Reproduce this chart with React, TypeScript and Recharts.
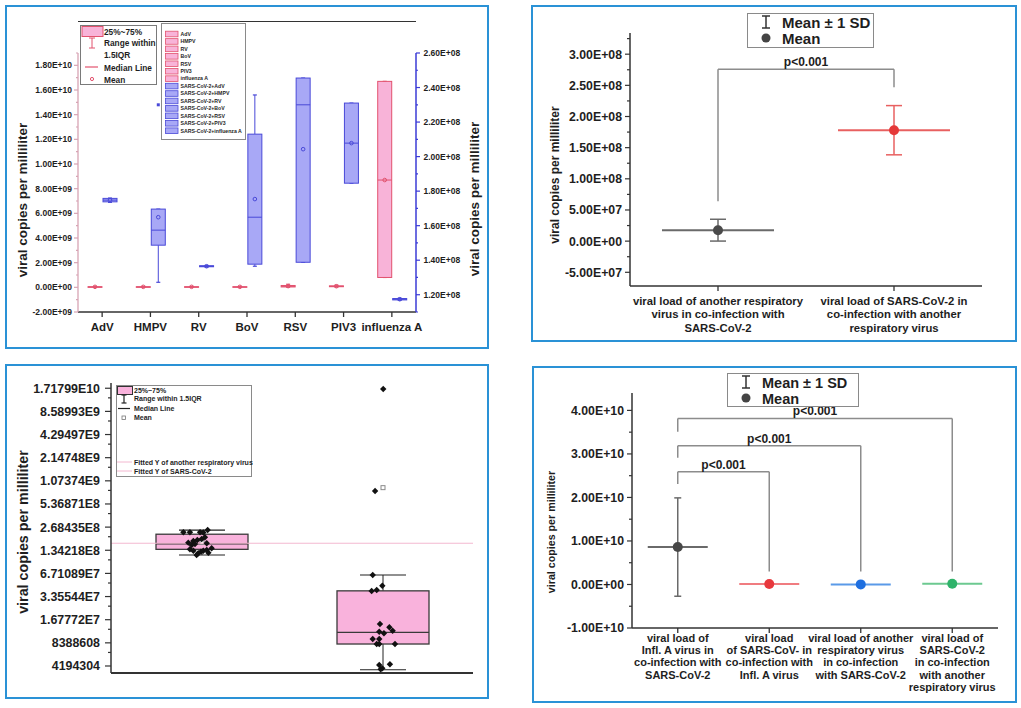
import React from 'react'
import {
  BarChart,
  ComposedChart,
  Bar,
  Scatter,
  XAxis,
  YAxis,
  ErrorBar,
  ReferenceLine,
} from 'recharts'

const FONT = '"Liberation Sans", Arial, Helvetica, sans-serif'
const INK = '#1e1e1e'
const FRAME = '#2a92d6'
const PINK_FILL = '#f8b3d8'
const PINK_EDGE = '#e2526e'
const BLUE_FILL = '#a8a8f6'
const BLUE_EDGE = '#4949d8'

// ---------- top left: viral load per co-infecting virus (box plots) ----------
const virusCats = ['AdV', 'HMPV', 'RV', 'BoV', 'RSV', 'PIV3', 'influenza A']
// the other respiratory virus (left axis)
const otherMin = [1e7, 1e7, 1e7, 1e7, 1e7, 2e7, 0.8e9]
const otherQ1 = [2e7, 2e7, 2e7, 2e7, 3e7, 5e7, 0.8e9]
const otherMed = [3e7, 3e7, 3e7, 3e7, 8e7, 8e7, 8.7e9]
const otherQ3 = [5e7, 5e7, 5e7, 5e7, 1.5e8, 1.2e8, 1.67e10]
const otherMax = [8e7, 8e7, 8e7, 8e7, 2.5e8, 1.8e8, 1.67e10]
const otherMean = [4e7, 4e7, 4e7, 4e7, 1e8, 9e7, 8.7e9]
// SARS-CoV-2 in the same patients (right axis)
const covMin = [1.735e8, 1.272e8, 1.36e8, 1.365e8, 1.388e8, 1.846e8, 1.168e8]
const covQ1 = [1.738e8, 1.487e8, 1.362e8, 1.377e8, 1.388e8, 1.846e8, 1.17e8]
const covMed = [1.748e8, 1.574e8, 1.365e8, 1.649e8, 2.3e8, 2.078e8, 1.174e8]
const covQ3 = [1.758e8, 1.696e8, 1.368e8, 2.13e8, 2.455e8, 2.31e8, 1.178e8]
const covMax = [1.76e8, 1.696e8, 1.37e8, 2.357e8, 2.455e8, 2.31e8, 1.18e8]
const covMean = [1.748e8, 1.649e8, 1.365e8, 1.754e8, 2.043e8, 2.078e8, 1.174e8]
const covOutlier = [null, 2.3e8, null, null, null, null, null]

const leftTicks1 = [-2e9, 0, 2e9, 4e9, 6e9, 8e9, 1e10, 1.2e10, 1.4e10, 1.6e10, 1.8e10]
const leftMinor1 = [-1e9, 1e9, 3e9, 5e9, 7e9, 9e9, 1.1e10, 1.3e10, 1.5e10, 1.7e10, 1.9e10]
const rightTicks1 = [1.2e8, 1.4e8, 1.6e8, 1.8e8, 2.0e8, 2.2e8, 2.4e8, 2.6e8]
const rightMinor1 = [1.1e8, 1.3e8, 1.5e8, 1.7e8, 1.9e8, 2.1e8, 2.3e8, 2.5e8]

// ---------- top right: mean +/- SD, two groups ----------
const pairCats = [
  'viral load of another respiratory\nvirus in co-infection with\nSARS-CoV-2',
  'viral load of SARS-CoV-2 in\nco-infection with another\nrespiratory virus',
]
const pairMean = [1.76e7, 1.78e8]
const pairSD = [1.75e7, 3.95e7]
const pairDot = ['#4a4a4a', '#e53838']
const pairLine = ['#6a6a6a', '#e86060']
const pairBracket = { top: 2.76e8, leftFoot: 6.4e7, rightFoot: 2.47e8, text: 'p<0.001' }
const pairTicks = [-5e7, 0, 5e7, 1e8, 1.5e8, 2e8, 2.5e8, 3e8]
const pairMinor = [-2.5e7, 2.5e7, 7.5e7, 1.25e8, 1.75e8, 2.25e8, 2.75e8, 3.25e8]

// ---------- bottom left: log2 box plots with jittered points ----------
const logCats = ['another respiratory virus', 'SARS-CoV-2']
const logMin = [1.165e8, 3.75e6]
const logQ1 = [1.38e8, 8.1e6]
const logMed = [1.63e8, 1.15e7]
const logQ3 = [2.17e8, 3.98e7]
const logMax = [2.46e8, 6.4e7]
const logMean = [1.7e8, 8.75e8]
const fittedLevel = 1.655e8
const jitterX = [
  0.4, 0.436, 0.492, 0.51, 0.534, 0.427, 0.455, 0.477, 0.501, 0.519, 0.446, 0.464, 0.529,
  0.436, 0.455, 0.482, 0.497, 0.51, 0.529, 0.538, 0.556, 0.473,
  1.504, 1.459, 1.446, 1.499, 1.44, 1.468, 1.486, 1.538, 1.556, 1.482, 1.508, 1.446, 1.482,
  1.468, 1.482, 1.569, 1.482, 1.541, 1.49, 1.499,
]
const jitterY = [
  2.3e8, 2.3e8, 2.3e8, 2.28e8, 2.46e8, 1.685e8, 1.773e8, 1.826e8, 1.882e8, 1.98e8, 1.572e8, 1.62e8, 1.655e8,
  1.382e8, 1.325e8, 1.226e8, 1.287e8, 1.325e8, 1.353e8, 1.248e8, 1.424e8, 1.165e8,
  1.68e10, 7.93e8, 6.4e7, 4.64e7, 3.96e7, 4.08e7, 1.475e7, 1.336e7, 1.207e7, 1.171e7, 1.116e7, 9.41e6, 9.41e6,
  8.1e6, 8.1e6, 8.1e6, 4.32e6, 4.41e6, 3.8e6, 3.91e6,
]
const logTicks = [
  4194304, 8388608, 16777216, 33554432, 67108864, 134217728, 268435456, 536870912, 1073741824,
  2147483648, 4294967296, 8589934592, 17179869184,
]
const logTickLabels = [
  '4194304', '8388608', '1.67772E7', '3.35544E7', '6.71089E7', '1.34218E8', '2.68435E8',
  '5.36871E8', '1.07374E9', '2.14748E9', '4.29497E9', '8.58993E9', '1.71799E10',
]
const logMinor = [
  6291456, 12582912, 25165824, 50331648, 100663296, 201326592, 402653184, 805306368,
  1610612736, 3221225472, 6442450944, 12884901888,
]

// ---------- bottom right: mean +/- SD, four groups ----------
const quadCats = [
  'viral load of\nInfl. A virus in\nco-infection with\nSARS-CoV-2',
  'viral load\nof SARS-CoV- in\nco-infection with\nInfl. A virus',
  'viral load of another\nrespiratory virus\nin co-infection\nwith SARS-CoV-2',
  'viral load of\nSARS-CoV-2\nin co-infection\nwith another\nrespiratory virus',
]
const quadMean = [8.6e9, 1.17e8, 1.76e7, 1.78e8]
const quadSD = [1.13e10, 4e6, 1.75e7, 3.95e7]
const quadDot = ['#474747', '#e8383d', '#1e6fe0', '#2fb36a']
const quadLine = ['#6a6a6a', '#f07c80', '#5a9ae8', '#6cc990']
const quadBrackets = [
  { to: 1, top: 2.59e10, leftFoot: 2.31e10, rightFoot: 3e9, text: 'p<0.001' },
  { to: 2, top: 3.19e10, leftFoot: 2.91e10, rightFoot: 3e9, text: 'p<0.001' },
  { to: 3, top: 3.815e10, leftFoot: 3.51e10, rightFoot: 3e9, text: 'p<0.001' },
]
const quadTicks = [-1e10, 0, 1e10, 2e10, 3e10, 4e10]
const quadMinor = [-5e9, 5e9, 1.5e10, 2.5e10, 3.5e10]

// ---------- helpers ----------
const merge = (a: number[], b: number[]) => [...a, ...b].sort((p, q) => p - q)

function sci(v: number) {
  const [m, e] = v.toExponential(2).split('e')
  return `${m}E${e[0]}${e.slice(1).padStart(2, '0')}`
}

// range of a box: [min, max] of the whisker span
const span = (key: string) => (d: any) => (d && d[key] ? [d[key].min, d[key].max] : null)

type TickOpts = {
  side: 'left' | 'right'
  majors: number[]
  label: (v: number) => string
  size: number
  stroke: string
  major: number
  minor: number
  gap: number
}

function yTick(o: TickOpts) {
  return (p: any) => {
    const { x, y, payload } = p
    const isMajor = o.majors.includes(payload.value)
    const len = isMajor ? o.major : o.minor
    const dir = o.side === 'left' ? -1 : 1
    return (
      <g>
        <line x1={x} x2={x + dir * len} y1={y} y2={y} stroke={o.stroke} strokeWidth={1.2} />
        {isMajor && (
          <text
            x={x + dir * (len + o.gap)}
            y={y}
            dy="0.36em"
            textAnchor={o.side === 'left' ? 'end' : 'start'}
            fontFamily={FONT}
            fontWeight="bold"
            fontSize={o.size}
            fill={INK}
          >
            {o.label(payload.value)}
          </text>
        )}
      </g>
    )
  }
}

function xTick(o: { size: number; first: number; lineGap: number; tickLen: number }) {
  return (p: any) => {
    const { x, y, payload } = p
    const lines = String(payload.value).split('\n')
    return (
      <g>
        {o.tickLen > 0 && (
          <line x1={x} x2={x} y1={y} y2={y + o.tickLen} stroke="#333" strokeWidth={1.3} />
        )}
        <text
          x={x}
          y={y + o.first}
          textAnchor="middle"
          fontFamily={FONT}
          fontWeight="bold"
          fontSize={o.size}
          fill={INK}
        >
          {lines.map((l, i) => (
            <tspan key={i} x={x} dy={i === 0 ? 0 : o.lineGap}>
              {l}
            </tspan>
          ))}
        </text>
      </g>
    )
  }
}

type Box = { min: number; q1: number; med: number; q3: number; max: number; mean: number; out?: number | null }
type BoxStyle = {
  key: string
  fill: string
  stroke: string
  whisker: string
  cap: number
  log?: boolean
  meanShape: 'circle' | 'square'
  meanColor: string
  strokeWidth: number
}

// the bar spans [min, max]; inner levels are placed on the same axis scale
function boxShape(s: BoxStyle) {
  return (props: any) => {
    const { x, y, width, height, payload } = props
    const b: Box = payload && payload[s.key]
    if (!b || x == null || y == null || !isFinite(y) || !isFinite(height)) return <g />
    const top = Math.min(y, y + height)
    const bot = Math.max(y, y + height)
    const t = (v: number) => (s.log ? Math.log(v) : v)
    const lo = t(b.min)
    const hi = t(b.max)
    const py = (v: number) =>
      hi > lo ? bot - ((t(v) - lo) / (hi - lo)) * (bot - top) : (top + bot) / 2
    const cx = x + width / 2
    const yq1 = py(b.q1)
    const yq3 = py(b.q3)
    const ymed = py(b.med)
    const ymean = py(b.mean)
    const half = s.cap / 2
    return (
      <g>
        <line x1={cx} x2={cx} y1={top} y2={yq3} stroke={s.whisker} strokeWidth={1} />
        <line x1={cx} x2={cx} y1={yq1} y2={bot} stroke={s.whisker} strokeWidth={1} />
        <line x1={cx - half} x2={cx + half} y1={top} y2={top} stroke={s.whisker} strokeWidth={1.2} />
        <line x1={cx - half} x2={cx + half} y1={bot} y2={bot} stroke={s.whisker} strokeWidth={1.2} />
        <rect
          x={x}
          y={yq3}
          width={width}
          height={Math.max(yq1 - yq3, 0.6)}
          fill={s.fill}
          stroke={s.stroke}
          strokeWidth={s.strokeWidth}
        />
        <line x1={x} x2={x + width} y1={ymed} y2={ymed} stroke={s.stroke} strokeWidth={s.strokeWidth} />
        {s.meanShape === 'circle' ? (
          <circle cx={cx} cy={ymean} r={1.8} fill="none" stroke={s.meanColor} strokeWidth={1} />
        ) : (
          <rect x={cx - 2} y={ymean - 2} width={4} height={4} fill="#fff" stroke={s.meanColor} strokeWidth={1} />
        )}
        {b.out != null && (
          <rect x={cx - 1.5} y={py(b.out) - 1.5} width={3} height={3} fill={s.stroke} />
        )}
      </g>
    )
  }
}

function meanShape(dot: string, line: string, half: number) {
  return (p: any) => {
    const { cx, cy } = p
    if (cx == null || cy == null) return <g />
    return (
      <g>
        <line x1={cx - half} x2={cx + half} y1={cy} y2={cy} stroke={line} strokeWidth={2} />
        <circle cx={cx} cy={cy} r={5} fill={dot} />
      </g>
    )
  }
}

function VTitle({ cx, cy, size, text }: { cx: number; cy: number; size: number; text: string }) {
  return (
    <div
      style={{
        position: 'absolute',
        left: cx,
        top: cy,
        transform: 'translate(-50%, -50%) rotate(-90deg)',
        whiteSpace: 'nowrap',
        fontFamily: FONT,
        fontWeight: 'bold',
        fontSize: size,
        color: INK,
        lineHeight: 1,
      }}
    >
      {text}
    </div>
  )
}

function Frame({ left, top, width, height }: { left: number; top: number; width: number; height: number }) {
  return (
    <div
      style={{
        position: 'absolute',
        left,
        top,
        width,
        height,
        boxSizing: 'border-box',
        border: `2px solid ${FRAME}`,
      }}
    />
  )
}

function SdLegend({ left, top, width, height, size }: { left: number; top: number; width: number; height: number; size: number }) {
  return (
    <svg style={{ position: 'absolute', left, top }} width={width} height={height}>
      <rect x={0.5} y={0.5} width={width - 1} height={height - 1} fill="#fff" stroke="#8a8a8a" />
      <line x1={19} x2={19} y1={3} y2={15} stroke="#333" strokeWidth={1.5} />
      <line x1={15} x2={23} y1={3} y2={3} stroke="#333" strokeWidth={1.5} />
      <line x1={15} x2={23} y1={15} y2={15} stroke="#333" strokeWidth={1.5} />
      <text x={35} y={14.5} fontFamily={FONT} fontWeight="bold" fontSize={size} fill={INK}>
        Mean ± 1 SD
      </text>
      <circle cx={19} cy={25} r={4.5} fill="#444" />
      <text x={35} y={31} fontFamily={FONT} fontWeight="bold" fontSize={size} fill={INK}>
        Mean
      </text>
    </svg>
  )
}

// ---------- panels ----------
const virusRows = virusCats.map((cat, i) => ({
  cat,
  other: { min: otherMin[i], q1: otherQ1[i], med: otherMed[i], q3: otherQ3[i], max: otherMax[i], mean: otherMean[i] },
  cov: {
    min: covMin[i], q1: covQ1[i], med: covMed[i], q3: covQ3[i], max: covMax[i], mean: covMean[i], out: covOutlier[i],
  },
}))

const legendBLabels = [...virusCats, ...virusCats.map((c) => `SARS-CoV-2+${c}`)]

function PanelVirus() {
  return (
    <>
      <div style={{ position: 'absolute', left: 6, top: 6 }}>
        <BarChart
          width={482}
          height={341}
          data={virusRows}
          margin={{ top: 47, right: 0, bottom: 0, left: 0 }}
          barSize={14}
          barGap={1}
        >
          <XAxis
            dataKey="cat"
            height={35}
            interval={0}
            tickSize={0}
            tickMargin={0}
            tickLine={false}
            axisLine={{ stroke: '#333', strokeWidth: 1.5 }}
            tick={xTick({ size: 11.5, first: 19, lineGap: 13, tickLen: 5 })}
          />
          <YAxis
            yAxisId="left"
            orientation="left"
            type="number"
            width={72}
            domain={[-2e9, 1.9e10]}
            allowDataOverflow
            ticks={merge(leftTicks1, leftMinor1)}
            interval={0}
            tickSize={0}
            tickMargin={0}
            tickLine={false}
            axisLine={{ stroke: '#d7a4b4', strokeWidth: 1.3 }}
            tick={yTick({ side: 'left', majors: leftTicks1, label: sci, size: 8.5, stroke: '#d7a4b4', major: 4, minor: 2, gap: 2 })}
          />
          <YAxis
            yAxisId="right"
            orientation="right"
            type="number"
            width={72}
            domain={[1.1e8, 2.6e8]}
            allowDataOverflow
            ticks={merge(rightTicks1, rightMinor1)}
            interval={0}
            tickSize={0}
            tickMargin={0}
            tickLine={false}
            axisLine={{ stroke: '#3b3bd6', strokeWidth: 1.5 }}
            tick={yTick({ side: 'right', majors: rightTicks1, label: sci, size: 8.5, stroke: '#3b3bd6', major: 4, minor: 2, gap: 3.5 })}
          />
          <Bar
            yAxisId="left"
            dataKey={span('other')}
            isAnimationActive={false}
            shape={boxShape({
              key: 'other', fill: PINK_FILL, stroke: PINK_EDGE, whisker: PINK_EDGE, cap: 4,
              meanShape: 'circle', meanColor: PINK_EDGE, strokeWidth: 1,
            })}
          />
          <Bar
            yAxisId="right"
            dataKey={span('cov')}
            isAnimationActive={false}
            shape={boxShape({
              key: 'cov', fill: BLUE_FILL, stroke: BLUE_EDGE, whisker: BLUE_EDGE, cap: 4,
              meanShape: 'circle', meanColor: BLUE_EDGE, strokeWidth: 1,
            })}
          />
        </BarChart>
      </div>
      <div style={{ position: 'absolute', left: 78, top: 21, width: 338, borderTop: '1.5px solid #333' }} />
      <VTitle cx={23} cy={200} size={13.5} text="viral copies per milliliter" />
      <VTitle cx={475} cy={199} size={13.5} text="viral copies per milliliter" />
      <svg style={{ position: 'absolute', left: 80, top: 25 }} width={78} height={61}>
        <rect x={0.5} y={0.5} width={76} height={59} fill="#fff" stroke="#7a7a7a" />
        <rect x={2} y={1.5} width={21} height={10} fill={PINK_FILL} stroke={PINK_EDGE} />
        <text x={24} y={9.5} fontFamily={FONT} fontWeight="bold" fontSize={8.3} fill={INK}>25%~75%</text>
        <line x1={12} x2={12} y1={13} y2={23} stroke={PINK_EDGE} />
        <line x1={9} x2={15} y1={13} y2={13} stroke={PINK_EDGE} />
        <line x1={9} x2={15} y1={23} y2={23} stroke={PINK_EDGE} />
        <text x={24} y={20.5} fontFamily={FONT} fontWeight="bold" fontSize={8.3} fill={INK}>Range within</text>
        <text x={24} y={33} fontFamily={FONT} fontWeight="bold" fontSize={8.3} fill={INK}>1.5IQR</text>
        <line x1={5} x2={18} y1={42} y2={42} stroke={PINK_EDGE} strokeWidth={1.2} />
        <text x={24} y={45.5} fontFamily={FONT} fontWeight="bold" fontSize={8.3} fill={INK}>Median Line</text>
        <circle cx={12} cy={54} r={1.6} fill="none" stroke={PINK_EDGE} />
        <text x={24} y={58} fontFamily={FONT} fontWeight="bold" fontSize={8.3} fill={INK}>Mean</text>
      </svg>
      <svg style={{ position: 'absolute', left: 161, top: 23 }} width={86} height={118}>
        <rect x={0.5} y={0.5} width={84} height={116} fill="#fff" stroke="#8a8a8a" />
        {legendBLabels.map((l, i) => {
          const cy = 11 + i * 7.44
          const pink = i < virusCats.length
          return (
            <g key={l}>
              <rect
                x={4.5}
                y={cy - 2.8}
                width={12.5}
                height={5.6}
                fill={pink ? PINK_FILL : BLUE_FILL}
                stroke={pink ? PINK_EDGE : BLUE_EDGE}
                strokeWidth={0.8}
              />
              <text x={19.5} y={cy + 1.8} fontFamily={FONT} fontWeight="bold" fontSize={5.2} fill={INK}>
                {l}
              </text>
            </g>
          )
        })}
      </svg>
    </>
  )
}

function PanelPair() {
  const rows = pairCats.map((cat) => ({ cat }))
  const bracket = '#8c8c8c'
  return (
    <>
      <div style={{ position: 'absolute', left: 533, top: 6 }}>
        <ComposedChart width={482} height={334} data={rows} margin={{ top: 27, right: 33, bottom: 0, left: 0 }}>
          <XAxis
            dataKey="cat"
            type="category"
            scale="band"
            allowDuplicatedCategory={false}
            height={54}
            interval={0}
            tickSize={0}
            tickMargin={0}
            tickLine={false}
            axisLine={{ stroke: '#333', strokeWidth: 1.5 }}
            tick={xTick({ size: 11.3, first: 19, lineGap: 13.4, tickLen: 5 })}
          />
          <YAxis
            type="number"
            width={97}
            domain={[-7.2e7, 3.34e8]}
            allowDataOverflow
            ticks={merge(pairTicks, pairMinor)}
            interval={0}
            tickSize={0}
            tickMargin={0}
            tickLine={false}
            axisLine={{ stroke: '#333', strokeWidth: 1.5 }}
            tick={yTick({ side: 'left', majors: pairTicks, label: sci, size: 12.3, stroke: '#333', major: 5, minor: 3, gap: 3 })}
          />
          <ReferenceLine segment={[{ x: pairCats[0], y: pairBracket.leftFoot }, { x: pairCats[0], y: pairBracket.top }]} stroke={bracket} strokeWidth={1.5} />
          <ReferenceLine
            segment={[{ x: pairCats[0], y: pairBracket.top }, { x: pairCats[1], y: pairBracket.top }]}
            stroke={bracket}
            strokeWidth={1.5}
            label={{ value: pairBracket.text, position: 'top', offset: 3, fontFamily: FONT, fontWeight: 'bold', fontSize: 12, fill: INK }}
          />
          <ReferenceLine segment={[{ x: pairCats[1], y: pairBracket.top }, { x: pairCats[1], y: pairBracket.rightFoot }]} stroke={bracket} strokeWidth={1.5} />
          {pairCats.map((cat, i) => (
            <Scatter
              key={cat}
              data={[{ cat, mean: pairMean[i], sd: pairSD[i] }]}
              dataKey="mean"
              isAnimationActive={false}
              shape={meanShape(pairDot[i], pairLine[i], 56)}
            >
              <ErrorBar dataKey="sd" direction="y" width={8} stroke={pairLine[i]} strokeWidth={1.5} />
            </Scatter>
          ))}
        </ComposedChart>
      </div>
      <VTitle cx={555} cy={175} size={12} text="viral copies per milliliter" />
      <SdLegend left={747} top={13} width={127} height={35} size={15} />
    </>
  )
}

function PanelLog() {
  const rows = logCats.map((cat, i) => ({
    cat,
    box: { min: logMin[i], q1: logQ1[i], med: logMed[i], q3: logQ3[i], max: logMax[i], mean: logMean[i] },
  }))
  const points = jitterX.map((x, i) => ({ x, y: jitterY[i] }))
  return (
    <>
      <div style={{ position: 'absolute', left: 6, top: 365 }}>
        <ComposedChart width={481} height={332} data={rows} margin={{ top: 18, right: 14, bottom: 0, left: 0 }}>
          <XAxis
            xAxisId="cat"
            dataKey="cat"
            type="category"
            height={24}
            tick={false}
            tickLine={false}
            axisLine={{ stroke: '#333', strokeWidth: 2 }}
          />
          <XAxis
            xAxisId="num"
            dataKey="x"
            type="number"
            orientation="top"
            domain={[0, 2]}
            allowDataOverflow
            height={0}
            tick={false}
            tickLine={false}
            axisLine={{ stroke: '#333', strokeWidth: 1.5 }}
          />
          <YAxis
            type="number"
            scale="log"
            width={105}
            domain={[3.4e6, 2.01e10]}
            allowDataOverflow
            ticks={merge(logTicks, logMinor)}
            interval={0}
            tickSize={0}
            tickMargin={0}
            tickLine={false}
            axisLine={{ stroke: '#333', strokeWidth: 1.5 }}
            tick={yTick({
              side: 'left', majors: logTicks, label: (v) => logTickLabels[logTicks.indexOf(v)],
              size: 12.4, stroke: '#333', major: 6, minor: 3, gap: 5,
            })}
          />
          <ReferenceLine xAxisId="cat" y={fittedLevel} stroke="#f3b8d0" strokeWidth={1.2} />
          <Bar
            xAxisId="cat"
            dataKey={span('box')}
            barSize={92}
            isAnimationActive={false}
            shape={boxShape({
              key: 'box', fill: '#f9b2dc', stroke: '#3a3a3a', whisker: '#222', cap: 46, log: true,
              meanShape: 'square', meanColor: '#8a8a8a', strokeWidth: 1.3,
            })}
          />
          <Scatter
            xAxisId="num"
            data={points}
            dataKey="y"
            isAnimationActive={false}
            shape={(p: any) => (
              <path
                d={`M${p.cx},${p.cy - 3.2}L${p.cx + 3.2},${p.cy}L${p.cx},${p.cy + 3.2}L${p.cx - 3.2},${p.cy}Z`}
                fill="#111"
              />
            )}
          />
        </ComposedChart>
      </div>
      <VTitle cx={23} cy={532} size={14.3} text="viral copies per milliliter" />
      <svg style={{ position: 'absolute', left: 116, top: 385 }} width={137} height={93}>
        <rect x={0.5} y={0.5} width={135} height={91} fill="#fff" stroke="#8a8a8a" />
        <rect x={1.5} y={1.5} width={15} height={8} fill="#f9b2dc" stroke="#333" />
        <text x={18} y={8} fontFamily={FONT} fontWeight="bold" fontSize={7} fill={INK}>25%~75%</text>
        <line x1={8} x2={8} y1={10} y2={18} stroke="#222" strokeWidth={1.2} />
        <line x1={5.5} x2={10.5} y1={10} y2={10} stroke="#222" strokeWidth={1.2} />
        <line x1={5.5} x2={10.5} y1={18} y2={18} stroke="#222" strokeWidth={1.2} />
        <text x={18} y={16} fontFamily={FONT} fontWeight="bold" fontSize={7} fill={INK}>Range within 1.5IQR</text>
        <line x1={2} x2={14} y1={23.5} y2={23.5} stroke="#222" strokeWidth={1.2} />
        <text x={18} y={26} fontFamily={FONT} fontWeight="bold" fontSize={7} fill={INK}>Median Line</text>
        <rect x={6} y={31} width={3.5} height={3.5} fill="#fff" stroke="#777" strokeWidth={0.8} />
        <text x={18} y={35} fontFamily={FONT} fontWeight="bold" fontSize={7} fill={INK}>Mean</text>
        <line x1={1} x2={16} y1={77} y2={77} stroke="#f3b8d0" />
        <text x={18} y={79.5} fontFamily={FONT} fontWeight="bold" fontSize={7} fill={INK}>Fitted Y of another respiratory virus</text>
        <line x1={1} x2={16} y1={86} y2={86} stroke="#f3b8d0" />
        <text x={18} y={88.5} fontFamily={FONT} fontWeight="bold" fontSize={7} fill={INK}>Fitted Y of SARS-CoV-2</text>
      </svg>
    </>
  )
}

function PanelQuad() {
  const rows = quadCats.map((cat) => ({ cat }))
  const bracket = '#8c8c8c'
  return (
    <>
      <div style={{ position: 'absolute', left: 533, top: 368 }}>
        <ComposedChart width={482} height={334} data={rows} margin={{ top: 25, right: 17, bottom: 0, left: 0 }}>
          <XAxis
            dataKey="cat"
            type="category"
            scale="band"
            allowDuplicatedCategory={false}
            height={74}
            interval={0}
            tickSize={0}
            tickMargin={0}
            tickLine={false}
            axisLine={{ stroke: '#333', strokeWidth: 1.5 }}
            tick={xTick({ size: 11, first: 13.6, lineGap: 12.4, tickLen: 5 })}
          />
          <YAxis
            type="number"
            width={99}
            domain={[-1e10, 4.4e10]}
            allowDataOverflow
            ticks={merge(quadTicks, quadMinor)}
            interval={0}
            tickSize={0}
            tickMargin={0}
            tickLine={false}
            axisLine={{ stroke: '#333', strokeWidth: 1.5 }}
            tick={yTick({ side: 'left', majors: quadTicks, label: sci, size: 12.3, stroke: '#333', major: 5, minor: 3, gap: 3 })}
          />
          {quadBrackets.map((b) => (
            <React.Fragment key={b.to}>
              <ReferenceLine segment={[{ x: quadCats[0], y: b.leftFoot }, { x: quadCats[0], y: b.top }]} stroke={bracket} strokeWidth={1.5} />
              <ReferenceLine
                segment={[{ x: quadCats[0], y: b.top }, { x: quadCats[b.to], y: b.top }]}
                stroke={bracket}
                strokeWidth={1.5}
                label={{ value: b.text, position: 'top', offset: 3, fontFamily: FONT, fontWeight: 'bold', fontSize: 12, fill: INK }}
              />
              <ReferenceLine segment={[{ x: quadCats[b.to], y: b.top }, { x: quadCats[b.to], y: b.rightFoot }]} stroke={bracket} strokeWidth={1.5} />
            </React.Fragment>
          ))}
          {quadCats.map((cat, i) => (
            <Scatter
              key={cat}
              data={[{ cat, mean: quadMean[i], sd: quadSD[i] }]}
              dataKey="mean"
              isAnimationActive={false}
              shape={meanShape(quadDot[i], quadLine[i], 30)}
            >
              <ErrorBar dataKey="sd" direction="y" width={3.5} stroke={quadLine[i]} strokeWidth={1.5} />
            </Scatter>
          ))}
        </ComposedChart>
      </div>
      <VTitle cx={551} cy={532} size={10.7} text="viral copies per milliliter" />
      <SdLegend left={727} top={373} width={132} height={34} size={14.5} />
    </>
  )
}

export default function App() {
  return (
    <div style={{ position: 'relative', width: 1021, height: 708, background: '#fff', overflow: 'hidden', fontFamily: FONT }}>
      <style>{'body{margin:0}'}</style>
      <Frame left={5} top={5} width={484} height={344} />
      <Frame left={531} top={5} width={486} height={337} />
      <Frame left={5} top={364} width={484} height={335} />
      <Frame left={532} top={366} width={485} height={337} />
      <PanelVirus />
      <PanelPair />
      <PanelLog />
      <PanelQuad />
    </div>
  )
}
